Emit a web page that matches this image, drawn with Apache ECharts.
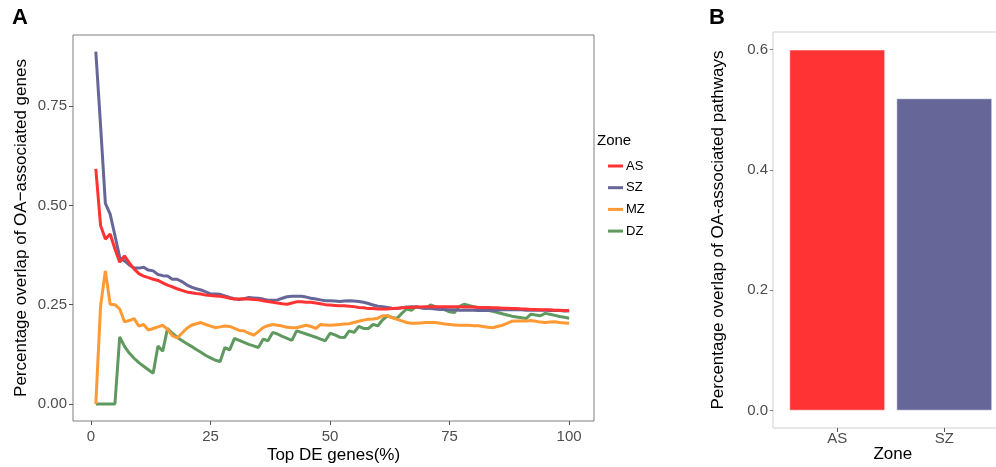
<!DOCTYPE html>
<html>
<head>
<meta charset="utf-8">
<script src="https://cdn.jsdelivr.net/npm/echarts@6/dist/echarts.min.js"></script>
<style>
  html, body { margin: 0; padding: 0; background: #fff; }
  #chart { width: 996px; height: 467px; }
</style>
</head>
<body>
<div id="chart"></div>
<script>
// panel A: overlap vs top DE genes (%)
const zones = ['AS', 'SZ', 'MZ', 'DZ'];
const zoneColors = ['#ff3333', '#666699', '#ff9933', '#5f995f'];
const xTicks = [0, 25, 50, 75, 100];
const yTicksA = [0, 0.25, 0.5, 0.75];

const asVals = [0.592, 0.449, 0.415, 0.428, 0.39, 0.357, 0.373, 0.355, 0.34, 0.328,
  0.322, 0.318, 0.314, 0.311, 0.305, 0.299, 0.295, 0.29, 0.286, 0.282,
  0.28, 0.278, 0.277, 0.274, 0.273, 0.272, 0.271, 0.269, 0.266, 0.264,
  0.264, 0.265, 0.264, 0.263, 0.262, 0.26, 0.258, 0.256, 0.254, 0.252,
  0.251, 0.254, 0.257, 0.257, 0.256, 0.256, 0.254, 0.252, 0.25, 0.249,
  0.248, 0.247, 0.247, 0.246, 0.245, 0.243, 0.242, 0.24, 0.24, 0.239,
  0.239, 0.239, 0.24, 0.241, 0.242, 0.243, 0.243, 0.244, 0.244, 0.245,
  0.245, 0.245, 0.245, 0.245, 0.245, 0.245, 0.245, 0.244, 0.244, 0.244,
  0.243, 0.243, 0.243, 0.242, 0.242, 0.241, 0.241, 0.24, 0.24, 0.239,
  0.239, 0.238, 0.238, 0.237, 0.237, 0.237, 0.236, 0.236, 0.235, 0.235];

const szVals = [0.887, 0.70, 0.505, 0.478, 0.424, 0.369, 0.36, 0.35, 0.342, 0.342,
  0.344, 0.337, 0.335, 0.326, 0.323, 0.322, 0.314, 0.314, 0.308, 0.3,
  0.294, 0.29, 0.287, 0.282, 0.277, 0.277, 0.276, 0.272, 0.268, 0.265,
  0.263, 0.265, 0.268, 0.267, 0.266, 0.264, 0.261, 0.261, 0.262, 0.266,
  0.27, 0.271, 0.271, 0.271, 0.269, 0.266, 0.264, 0.262, 0.26, 0.26,
  0.259, 0.258, 0.259, 0.26, 0.259, 0.258, 0.256, 0.253, 0.249, 0.246,
  0.245, 0.243, 0.241, 0.24, 0.242, 0.244, 0.245, 0.244, 0.242, 0.241,
  0.24, 0.239, 0.238, 0.238, 0.237, 0.237, 0.236, 0.236, 0.236, 0.236,
  0.235, 0.235, 0.235, 0.236, 0.236, 0.237, 0.237, 0.237, 0.237, 0.237,
  0.236, 0.236, 0.236, 0.236, 0.236, 0.235, 0.235, 0.235, 0.234, 0.234];

const mzVals = [0.0, 0.247, 0.335, 0.251, 0.25, 0.239, 0.207, 0.21, 0.215, 0.196,
  0.2, 0.186, 0.19, 0.194, 0.198, 0.188, 0.172, 0.166, 0.178, 0.19,
  0.198, 0.202, 0.205, 0.2, 0.196, 0.192, 0.194, 0.196, 0.195, 0.19,
  0.185, 0.184, 0.178, 0.173, 0.182, 0.192, 0.197, 0.2, 0.198, 0.196,
  0.193, 0.192, 0.192, 0.195, 0.198, 0.195, 0.19, 0.2, 0.199, 0.198,
  0.199, 0.2, 0.201, 0.202, 0.205, 0.208, 0.211, 0.213, 0.214, 0.216,
  0.222, 0.222, 0.217, 0.213, 0.209, 0.205, 0.203, 0.203, 0.204, 0.205,
  0.205, 0.205, 0.203, 0.201, 0.2, 0.199, 0.198, 0.198, 0.198, 0.197,
  0.197, 0.195, 0.193, 0.192, 0.195, 0.198, 0.203, 0.208, 0.209, 0.209,
  0.209, 0.21, 0.208, 0.206, 0.205, 0.206, 0.207, 0.205, 0.204, 0.203];

const dzVals = [0, 0, 0, 0, 0, 0.169, 0.145, 0.128, 0.115, 0.104,
  0.095, 0.086, 0.077, 0.146, 0.133, 0.19, 0.178, 0.168, 0.16, 0.152,
  0.145, 0.137, 0.13, 0.122, 0.116, 0.11, 0.107, 0.142, 0.136, 0.165,
  0.16, 0.155, 0.15, 0.146, 0.142, 0.163, 0.159, 0.18, 0.176, 0.17,
  0.165, 0.16, 0.184, 0.18, 0.176, 0.172, 0.168, 0.163, 0.159, 0.178,
  0.174, 0.168, 0.167, 0.184, 0.18, 0.195, 0.19, 0.19, 0.2, 0.197,
  0.212, 0.222, 0.218, 0.215, 0.228, 0.239, 0.236, 0.245, 0.242, 0.24,
  0.249, 0.245, 0.241, 0.237, 0.232, 0.23, 0.245, 0.251, 0.248, 0.245,
  0.242, 0.239, 0.236, 0.233, 0.23, 0.227, 0.224, 0.221, 0.219, 0.217,
  0.215, 0.226, 0.224, 0.222, 0.228, 0.226, 0.223, 0.22, 0.218, 0.216];

// panel B: overlap of pathways
const zonesB = ['AS', 'SZ'];
const pathwayVals = [0.6, 0.519];
const yTicksB = [0, 0.2, 0.4, 0.6];

const font = 'Liberation Sans, Arial, sans-serif';
const labelColor = '#4d4d4d';

const dom = document.getElementById('chart');
const myChart = echarts.init(dom, null, { renderer: 'canvas' });

const seriesA = [asVals, szVals, mzVals, dzVals].map(function (vals, k) {
  return {
    name: zones[k],
    type: 'line',
    xAxisIndex: 0,
    yAxisIndex: 0,
    symbol: 'none',
    color: zoneColors[k],
    lineStyle: { width: 3, color: zoneColors[k] },
    data: vals.map(function (v, i) { return [i + 1, v]; }),
    z: 3 + (3 - k)
  };
});

const option = {
  animation: false,
  textStyle: { fontFamily: font },
  graphic: [
    { type: 'text', left: 12, top: 7, style: { text: 'A', font: 'bold 22px Liberation Sans, Arial', fill: '#000' } },
    { type: 'text', left: 709, top: 7, style: { text: 'B', font: 'bold 22px Liberation Sans, Arial', fill: '#000' } },
    { type: 'text', left: 597, top: 133, style: { text: 'Zone', font: '15px Liberation Sans, Arial', fill: '#000' } }
  ],
  legend: {
    data: zones,
    orient: 'vertical',
    left: 603,
    top: 154.5,
    icon: 'rect',
    itemWidth: 15,
    itemHeight: 3,
    itemGap: 8.7,
    textStyle: { fontSize: 13, color: '#000', fontFamily: font, padding: [0, 0, 0, -2] }
  },
  grid: [
    { left: 73, top: 35, width: 521, height: 386, outerBoundsMode: 'none', containLabel: false,
      show: true, borderColor: '#7f7f7f', borderWidth: 1, backgroundColor: '#fff' },
    { left: 773, top: 32, width: 235.5, height: 396, outerBoundsMode: 'none', containLabel: false,
      show: true, borderColor: '#cfcfcf', borderWidth: 1, backgroundColor: '#fff' }
  ],
  xAxis: [
    {
      type: 'value', gridIndex: 0, min: -3.77, max: 105.2,
      name: 'Top DE genes(%)', nameLocation: 'middle', nameGap: 26, nameMoveOverlap: false,
      nameTextStyle: { fontSize: 17, color: '#000' },
      axisLine: { show: false, onZero: false },
      splitLine: { show: false },
      axisTick: { show: true, inside: false, length: 4, lineStyle: { color: '#555' }, customValues: xTicks },
      axisLabel: { fontSize: 15, color: labelColor, margin: 8, customValues: xTicks }
    },
    {
      type: 'value', gridIndex: 1, min: 0.4, max: 2.6,
      name: 'Zone', nameLocation: 'middle', nameGap: 18, nameMoveOverlap: false,
      nameTextStyle: { fontSize: 17, color: '#000', padding: [0, 0, 0, 4] },
      axisLine: { show: false, onZero: false },
      splitLine: { show: false },
      axisTick: { show: true, inside: false, length: 4, lineStyle: { color: '#555' }, customValues: [1, 2] },
      axisLabel: {
        fontSize: 15, color: labelColor, margin: 3, customValues: [1, 2],
        formatter: function (v) { return zonesB[v - 1]; }
      }
    }
  ],
  yAxis: [
    {
      type: 'value', gridIndex: 0, min: -0.043, max: 0.929,
      name: 'Percentage overlap of OA\u2212associated genes', nameLocation: 'middle', nameGap: 43, nameMoveOverlap: false,
      nameTextStyle: { fontSize: 17, color: '#000' },
      axisLine: { show: false, onZero: false },
      splitLine: { show: false },
      axisTick: { show: true, inside: false, length: 4, lineStyle: { color: '#555' }, customValues: yTicksA },
      axisLabel: {
        fontSize: 15, color: labelColor, margin: 6, customValues: yTicksA,
        formatter: function (v) { return v.toFixed(2); }
      }
    },
    {
      type: 'value', gridIndex: 1, min: -0.0287, max: 0.629,
      name: 'Percentage overlap of OA-associated pathways', nameLocation: 'middle', nameGap: 46, nameMoveOverlap: false,
      nameTextStyle: { fontSize: 17, color: '#000' },
      axisLine: { show: false, onZero: false },
      splitLine: { show: false },
      axisTick: { show: true, inside: false, length: 3, lineStyle: { color: '#888' }, customValues: yTicksB },
      axisLabel: {
        fontSize: 15, color: labelColor, margin: 5, customValues: yTicksB,
        formatter: function (v) { return v.toFixed(1); }
      }
    }
  ],
  series: seriesA.concat([
    {
      name: 'pathways',
      type: 'bar',
      xAxisIndex: 1,
      yAxisIndex: 1,
      barWidth: 96,
      data: pathwayVals.map(function (v, i) {
        return {
          value: [i + 1, v],
          itemStyle: { color: zoneColors[i], borderColor: 'rgba(255,255,255,0.6)', borderWidth: 1 }
        };
      })
    }
  ])
};

myChart.setOption(option);
window.addEventListener('resize', myChart.resize);
</script>
</body>
</html>
